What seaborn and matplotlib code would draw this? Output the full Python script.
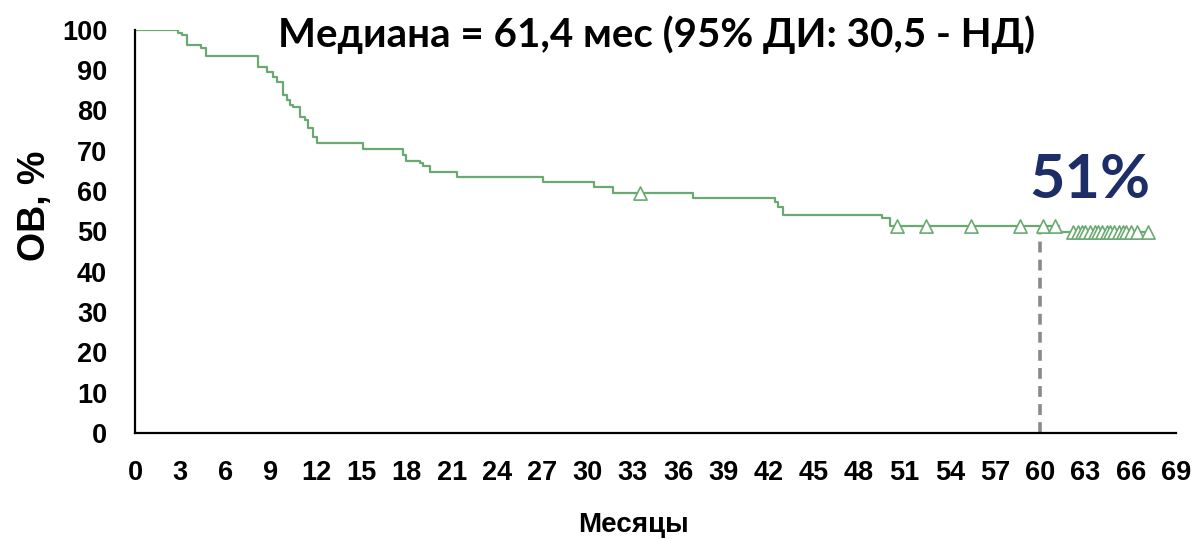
import numpy as np
import pandas as pd
import matplotlib
matplotlib.use("Agg")
import matplotlib.pyplot as plt
import seaborn as sns

# ---- data ----
step_months = [0, 2.87, 3.09, 3.43, 4.35, 4.71, 8.17, 8.73, 9.15, 9.39, 9.83, 10.05,
               10.27, 10.49, 10.94, 11.27, 11.48, 11.82, 12.08, 15.13, 17.78, 17.96,
               18.89, 19.1, 19.55, 21.32, 27.06, 30.42, 31.7, 37.0, 42.41, 42.61,
               42.94, 49.48, 50.03, 61.25, 67.15]
step_surv = [100, 99.1, 98.7, 96.2, 95.4, 93.5, 90.8, 89.6, 88.3, 87.1, 83.8, 82.6,
             81.3, 80.8, 78.4, 77.6, 75.6, 73.5, 71.8, 70.3, 68.9, 67.5,
             66.9, 66.2, 64.6, 63.6, 62.3, 61.1, 59.4, 58.3, 57.4, 56.1,
             54.1, 53.2, 51.3, 49.9, 49.9]
censor_months = [33.47, 50.5, 52.4, 55.38, 58.65, 60.19, 60.97,
                 62.2, 62.5, 62.8, 63.0, 63.3, 63.6, 63.8, 64.1, 64.4, 64.6,
                 64.9, 65.2, 65.5, 65.7, 66.0, 66.4, 67.15]
x_ticks = list(range(0, 70, 3))
y_ticks = list(range(0, 101, 10))
median_month = 60
median_surv = 50
title_text = "Медиана = 61,4 мес (95% ДИ: 30,5 - НД)"
pct_label = "51%"
x_label = "Месяцы"
y_label = "ОВ, %"

curve = pd.DataFrame({"month": step_months, "surv": step_surv})
idx = np.searchsorted(step_months, censor_months, side="right") - 1
censor = pd.DataFrame({"month": censor_months, "surv": np.array(step_surv)[idx]})

# ---- style ----
sns.set_style("white")
plt.rcParams["font.family"] = ["Liberation Sans", "DejaVu Sans"]

green = "#6aaa72"
fig = plt.figure(figsize=(11.96, 5.39), dpi=100)
ax = fig.add_axes([135 / 1196, 1 - 433 / 539, (1176 - 135) / 1196, (433 - 29.7) / 539])

sns.lineplot(data=curve, x="month", y="surv", drawstyle="steps-post",
             color=green, linewidth=1.6, ax=ax)
sns.scatterplot(data=censor, x="month", y="surv", marker="^", s=90,
                facecolor="white", edgecolor=green, linewidth=1.2, ax=ax, zorder=3)
ax.plot([median_month, median_month], [0, median_surv], color="#8a8a8a",
        linewidth=2.6, linestyle=(0, (3, 2)), zorder=2)

ax.set_xlim(0, 69)
ax.set_ylim(0, 100)
ax.set_xticks(x_ticks)
ax.set_yticks(y_ticks)
ax.set_xlabel("")
ax.set_ylabel("")
for s in ["top", "right"]:
    ax.spines[s].set_visible(False)
for s in ["left", "bottom"]:
    ax.spines[s].set_color("black")
    ax.spines[s].set_linewidth(1.6)
ax.tick_params(axis="x", direction="out", length=8.5, width=1.6, pad=11,
               labelsize=19.5, colors="black")
ax.tick_params(axis="y", direction="out", length=6, width=1.6, pad=14,
               labelsize=19.5, colors="black")
ax.spines["bottom"].set_clip_on(False)
for lab in ax.get_xticklabels() + ax.get_yticklabels():
    lab.set_fontweight("bold")

ax.text(63.3, 62.7, pct_label, ha="center", va="center", fontsize=44,
        fontweight="bold", color="#1c2d68", family=["Lato", "DejaVu Sans"])
fig.text(657 / 1196, 1 - 35 / 539, title_text, ha="center", va="center",
         fontsize=29, fontweight="bold", color="black", family=["Lato", "DejaVu Sans"])
fig.text(35 / 1196, 1 - 206 / 539, y_label, ha="center", va="center", rotation=90,
         fontsize=27, fontweight="bold", color="black")
fig.text(634 / 1196, 1 - 525 / 539, x_label, ha="center", va="center",
         fontsize=20, fontweight="bold", color="black")

fig.savefig("out.png", dpi=100)
